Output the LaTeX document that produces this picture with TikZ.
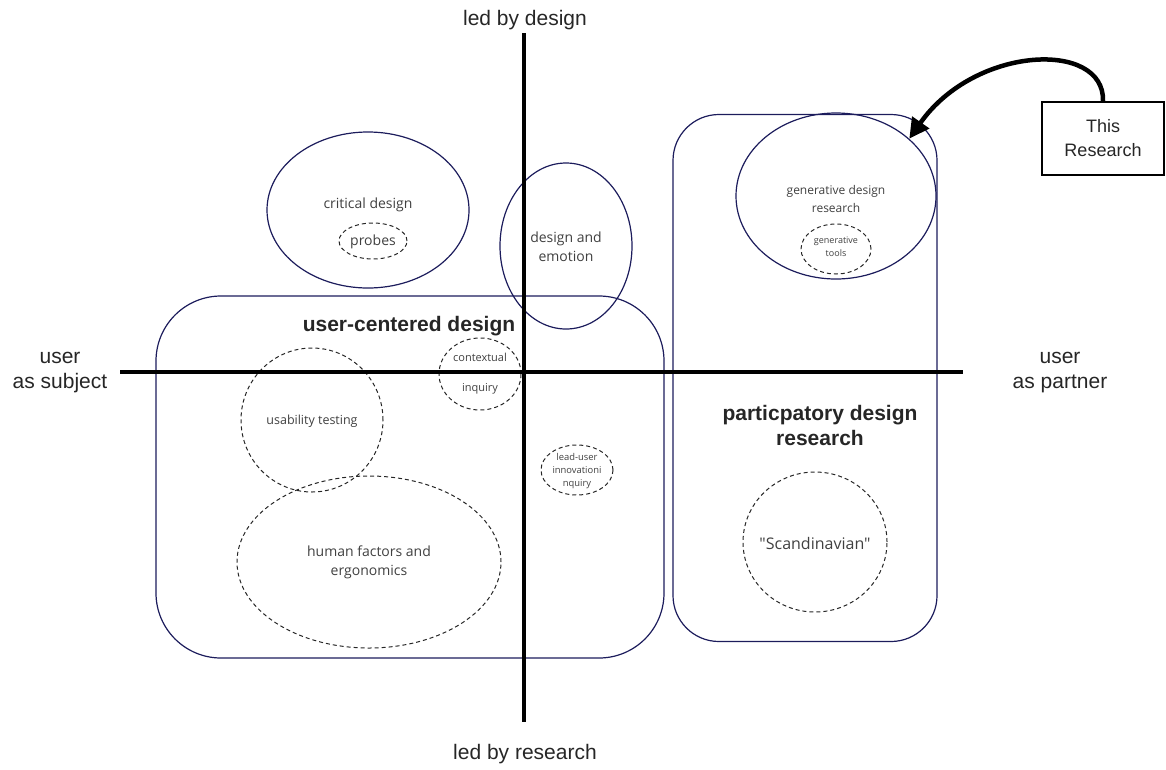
\documentclass[tikz,border=0pt]{standalone}
\usepackage{fontspec}
\setmainfont{Liberation Sans}
\newfontfamily\opensans{Open Sans}
\usetikzlibrary{shapes.geometric,arrows.meta}
\definecolor{navy}{RGB}{28,28,92}
\definecolor{inktext}{RGB}{64,64,64}
\begin{document}
\begin{tikzpicture}[x=1pt,y=-1pt,
  solidell/.style={ellipse, draw=navy, line width=1.2pt, inner sep=0pt},
  dashell/.style={ellipse, draw=black!85, dash pattern=on 4pt off 3pt, line width=1pt, inner sep=0pt},
  region/.style={rectangle, draw=navy, line width=1.2pt, inner sep=0pt},
  txt/.style={font=\opensans\fontsize{14}{19}\selectfont, text=inktext, align=center, inner sep=0pt},
  axislabel/.style={font=\fontsize{21}{25}\selectfont, text=black!85, align=center, inner sep=0pt},
  boldlabel/.style={font=\bfseries\fontsize{21}{25}\selectfont, text=black!85, align=center, inner sep=0pt},
  axisline/.style={line width=4.5pt, black}]
\useasboundingbox (0,0) rectangle (1166,769);

% the two large regions
\node[region, rounded corners=65pt, minimum width=508pt, minimum height=362pt] (ucd) at (410,477) {};
\node[region, rounded corners=46pt, minimum width=264pt, minimum height=527pt] (pdr) at (805,378) {};

% solid ellipses
\node[solidell, minimum width=202pt, minimum height=156pt] (crit) at (368,210) {};
\node[solidell, minimum width=132pt, minimum height=166pt] (emo) at (566,246) {};
\node[solidell, minimum width=200pt, minimum height=166pt] (gdr) at (836,196) {};

% dashed ellipses
\node[dashell, minimum width=68pt, minimum height=36pt] (probes) at (373,241) {};
\node[dashell, minimum width=70pt, minimum height=50pt] (gtools) at (836,249) {};
\node[dashell, minimum width=82pt, minimum height=72pt] (ctx) at (480,374) {};
\node[dashell, minimum width=72pt, minimum height=50pt] (lead) at (577,470) {};
\node[dashell, minimum width=142pt, minimum height=144pt] (usab) at (312,420) {};
\node[dashell, minimum width=264pt, minimum height=172pt] (hf) at (369,562) {};
\node[dashell, minimum width=144pt, minimum height=140pt] (scan) at (815,542) {};

% axes
\coordinate (ytop) at (524,33);
\coordinate (ybot) at (524,722);
\coordinate (xleft) at (120,372);
\coordinate (xright) at (963,372);
\draw[axisline] (ytop) -- (ybot);
\draw[axisline] (xleft) -- (xright);

% axis labels
\node[axislabel] (ldes) at (525,20) {led by design};
\node[axislabel] (lres) at (525,754) {led by research};
\node[axislabel] (usubj) at (60,373) {user\\as subject};
\node[axislabel] (upart) at (1060,373) {user\\as partner};

% region titles
\node[boldlabel] (ucdt) at (409,326) {user-centered design};
\node[boldlabel] (pdrt) at (820,425) {particpatory design\\research};

% texts in the ellipses
\node[txt] (critt) at (368,205) {critical design};
\node[txt] (probest) at (373,242) {probes};
\node[txt] (emot) at (566,247) {design and\\emotion};
\node[txt, font=\opensans\fontsize{12}{18}\selectfont] (gdrt) at (836,199) {generative design\\research};
\node[txt, font=\opensans\fontsize{9}{13}\selectfont] (gtoolst) at (836,247) {generative\\tools};
\node[txt, font=\opensans\fontsize{11}{30}\selectfont] (ctxt) at (480,374) {contextual\\inquiry};
\node[txt, font=\opensans\fontsize{9.4}{13}\selectfont] (leadt) at (577,471) {lead-user\\innovationi\\nquiry};
\node[txt, font=\opensans\fontsize{12.5}{17}\selectfont] (usabt) at (312,421) {usability testing};
\node[txt] (hft) at (369,562) {human factors and\\ergonomics};
\node[txt, font=\opensans\fontsize{16}{20}\selectfont] (scant) at (815,543) {"Scandinavian"};

% pointer box
\node[draw=black, line width=1.6pt, minimum width=122pt, minimum height=73pt, inner sep=0pt,
      font=\fontsize{18}{24}\selectfont, text=black!85, align=center] (tr) at (1103,138.5) {This\\Research};
\draw[line width=4.5pt, -{Triangle[length=20pt,width=20pt]}]
  (tr.north) .. controls (1105,40) and (975,45) .. (gdr.38);
\end{tikzpicture}
\end{document}
